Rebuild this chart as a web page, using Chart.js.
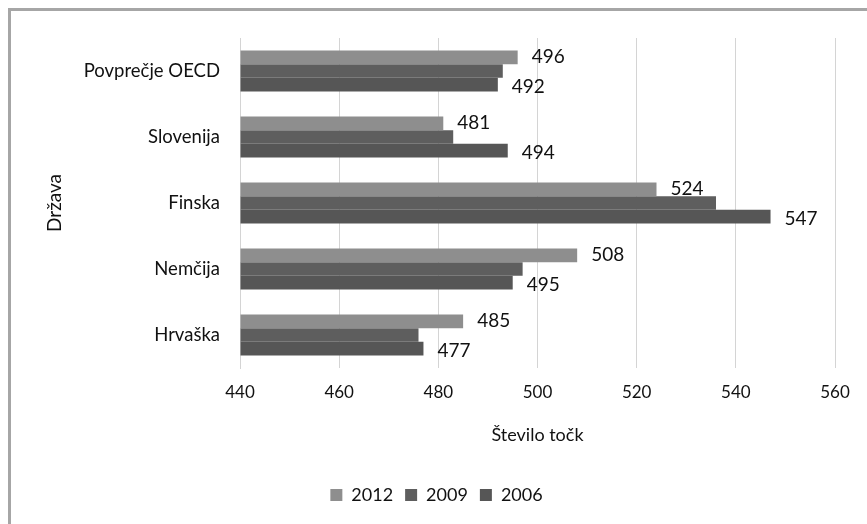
<!DOCTYPE html>
<html>
<head>
<meta charset="utf-8">
<script src="https://cdn.jsdelivr.net/npm/chart.js@4.4.0/dist/chart.umd.min.js"></script>
<style>
  html, body { margin: 0; padding: 0; background: #fff; overflow: hidden; }
  #frame { position: absolute; left: 8px; top: 8px; width: 900px; height: 560px;
           border-left: 3px solid #a6a6a6; border-top: 3px solid #a6a6a6; }
  #wrap { position: absolute; left: 0; top: 0; width: 867px; height: 524px; }
</style>
</head>
<body>
<div id="frame"></div>
<div id="wrap"><canvas id="chart"></canvas></div>
<script>
// data
const countries = ['Povprečje OECD', 'Slovenija', 'Finska', 'Nemčija', 'Hrvaška'];
const years = ['2012', '2009', '2006'];
const score2012 = [496, 481, 524, 508, 485];
const score2009 = [493, 483, 536, 497, 476];
const score2006 = [492, 494, 547, 495, 477];
const xTicks = [440, 460, 480, 500, 520, 540, 560];

const fontFam = 'Lato, "Open Sans", sans-serif';
const textColor = '#111';
const colors = ['#8e8e8e', '#5e5e5e', '#565656'];

// value labels only on 2012 and 2006 bars, like the original
const barLabels = {
  id: 'barLabels',
  afterDatasetsDraw(chart) {
    const ctx = chart.ctx;
    ctx.save();
    ctx.font = '19px ' + fontFam;
    ctx.fillStyle = textColor;
    ctx.textBaseline = 'middle';
    ctx.textAlign = 'left';
    [0, 2].forEach(di => {
      const meta = chart.getDatasetMeta(di);
      meta.data.forEach((bar, i) => {
        const v = chart.data.datasets[di].data[i];
        ctx.fillText(String(v), bar.x + 14, bar.y + (di === 2 ? 2 : 0));
      });
    });
    ctx.restore();
  }
};

new Chart(document.getElementById('chart'), {
  type: 'bar',
  data: {
    labels: countries,
    datasets: [
      { label: years[0], data: score2012, backgroundColor: colors[0] },
      { label: years[1], data: score2009, backgroundColor: colors[1] },
      { label: years[2], data: score2006, backgroundColor: colors[2] }
    ]
  },
  options: {
    indexAxis: 'y',
    responsive: true,
    maintainAspectRatio: false,
    animation: false,
    base: 440,
    categoryPercentage: 0.62,
    barPercentage: 1.0,
    layout: { padding: { left: 38, top: 38, right: 32, bottom: 10 } },
    scales: {
      x: {
        min: 440, max: 560,
        afterBuildTicks(axis) { axis.ticks = xTicks.map(v => ({ value: v })); },
        afterFit(axis) { axis.height = 106; },
        grid: { color: '#d4d4d4', drawTicks: false },
        border: { display: false },
        ticks: { font: { family: fontFam, size: 17 }, color: textColor, padding: 14 },
        title: { display: true, text: 'Število točk', font: { family: fontFam, size: 18 },
                 color: textColor, padding: { top: 4, bottom: 28 } }
      },
      y: {
        afterFit(axis) { axis.width = 202; },
        grid: { display: false, drawTicks: false },
        border: { display: true, color: '#d4d4d4' },
        ticks: { font: { family: fontFam, size: 18.5 }, color: textColor, padding: 20 },
        title: { display: true, text: 'Država', font: { family: fontFam, size: 19 },
                 color: textColor, padding: 5 }
      }
    },
    plugins: {
      legend: {
        position: 'bottom',
        labels: { font: { family: fontFam, size: 18 }, color: textColor,
                  boxWidth: 12, boxHeight: 12, padding: 12 }
      },
      tooltip: { enabled: false }
    }
  },
  plugins: [barLabels]
});
</script>
</body>
</html>
